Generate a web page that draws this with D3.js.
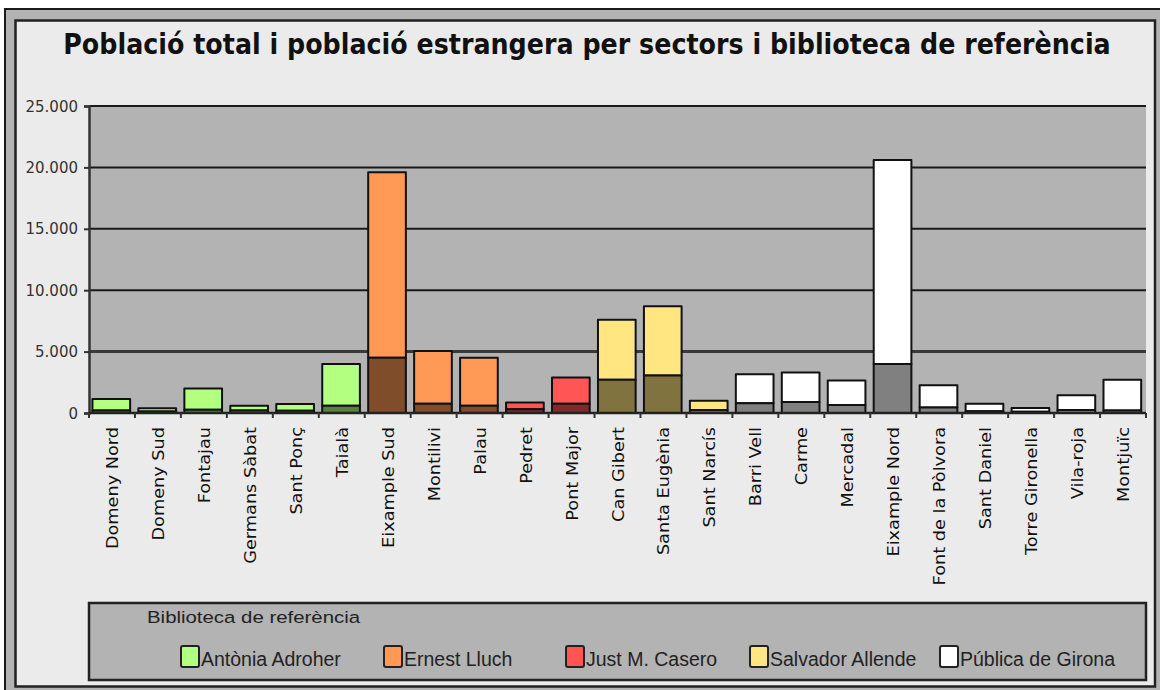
<!DOCTYPE html>
<html><head><meta charset="utf-8">
<script src="https://cdn.jsdelivr.net/npm/d3@7"></script>
<style>body{margin:0;background:#fff;} svg{display:block;}</style>
</head><body>
<svg id="chart" width="1160" height="690"></svg>
<script>
const categories = ["Domeny Nord","Domeny Sud","Fontajau","Germans Sàbat","Sant Ponç","Taialà","Eixample Sud","Montilivi","Palau","Pedret","Pont Major","Can Gibert","Santa Eugènia","Sant Narcís","Barri Vell","Carme","Mercadal","Eixample Nord","Font de la Pòlvora","Sant Daniel","Torre Gironella","Vila-roja","Montjuïc"];
const totalPopulation = [1150, 380, 2000, 600, 730, 4000, 19600, 5050, 4500, 850, 2900, 7600, 8700, 1000, 3150, 3300, 2650, 20600, 2250, 750, 400, 1450, 2700];
const foreignPopulation = [200, 120, 270, 200, 190, 600, 4500, 750, 600, 300, 750, 2700, 3050, 250, 800, 900, 650, 4000, 450, 150, 100, 250, 200];
const libraryIndex = [0,0,0,0,0,0,1,1,1,2,2,3,3,3,4,4,4,4,4,4,4,4,4];
const libraries = ["Antònia Adroher","Ernest Lluch","Just M. Casero","Salvador Allende","Pública de Girona"];
const libraryColors = ["#b3ff80","#ff9955","#ff5555","#ffe680","#ffffff"];
const yTickValues = [0,5000,10000,15000,20000,25000];
const titleText = "Població total i població estrangera per sectors i biblioteca de referència";
const legendTitle = "Biblioteca de referència";

(function(){
const svg = d3.select("#chart");
const fmt = d3.formatLocale({decimal:",", thousands:".", grouping:[3], currency:["","€"]}).format(",d");
function darker(c){ const r = d3.rgb(c); return d3.rgb(r.r/2, r.g/2, r.b/2).formatHex(); }

// frames
svg.append("rect").attr("x",5).attr("y",9).attr("width",1170).attr("height",700)
  .attr("fill","#b3b3b3").attr("stroke","#1a1a1a").attr("stroke-width",2);
svg.append("rect").attr("x",15.5).attr("y",20.5).attr("width",1139.5).attr("height",666)
  .attr("fill","#ebebeb").attr("stroke","#222").attr("stroke-width",2.5);

// title
const title = svg.append("text").attr("x",587).attr("y",0).attr("text-anchor","middle")
  .attr("font-family","DejaVu Sans").attr("font-weight","bold").attr("font-size",22)
  .attr("fill","#111").text(titleText);
const tl = title.node().getComputedTextLength();
title.attr("font-size", 22*1048/tl).attr("transform","translate(0,54) scale(1,1.12)");

const pLeft = 89, pRight = 1146, pTop = 106, pBottom = 413;
const x = d3.scaleBand().domain(categories).range([pLeft,pRight]).paddingInner(0).paddingOuter(0);
const y = d3.scaleLinear().domain([0,25000]).range([pBottom,pTop]);

// plot background
svg.append("rect").attr("x",pLeft).attr("y",pTop).attr("width",pRight-pLeft).attr("height",pBottom-pTop).attr("fill","#b3b3b3");

// gridlines
svg.append("g").selectAll("line").data(yTickValues.filter(d=>d>0)).join("line")
  .attr("x1",pLeft).attr("x2",pRight).attr("y1",d=>y(d)).attr("y2",d=>y(d))
  .attr("stroke",d=>d===5000?"#3a3a3a":"#1a1a1a").attr("stroke-width",d=>d===5000?3:2);

// y axis
const yAxis = svg.append("g").attr("transform",`translate(${pLeft},0)`)
  .call(d3.axisLeft(y).tickValues(yTickValues).tickSize(5).tickPadding(6).tickFormat(fmt));
yAxis.select(".domain").attr("stroke","#333").attr("stroke-width",2.5);
yAxis.selectAll(".tick line").attr("stroke","#333").attr("stroke-width",2);
yAxis.selectAll(".tick text").attr("font-family","DejaVu Sans").attr("font-size",15).attr("fill","#333")
  .attr("dy",null).attr("dominant-baseline","central");

// bars
const bw = x.bandwidth();
const bars = svg.append("g");
categories.forEach((c,i)=>{
  const col = libraryColors[libraryIndex[i]];
  const bx = x(c) + bw*0.075, w = bw*0.82;
  bars.append("rect").attr("x",bx).attr("width",w)
    .attr("y",y(totalPopulation[i])).attr("height",y(foreignPopulation[i])-y(totalPopulation[i]))
    .attr("fill",col).attr("stroke","#111").attr("stroke-width",2).attr("stroke-linejoin","round");
  bars.append("rect").attr("x",bx).attr("width",w)
    .attr("y",y(foreignPopulation[i])).attr("height",y(0)-y(foreignPopulation[i]))
    .attr("fill",darker(col)).attr("stroke","#111").attr("stroke-width",2).attr("stroke-linejoin","round");
});

// x axis line & ticks
svg.append("line").attr("x1",pLeft).attr("x2",pRight).attr("y1",pBottom).attr("y2",pBottom)
  .attr("stroke","#222").attr("stroke-width",2.5);
const bounds = categories.map(c=>x(c)).concat([pRight]);
svg.append("g").selectAll("line").data(bounds).join("line")
  .attr("x1",d=>d).attr("x2",d=>d).attr("y1",pBottom).attr("y2",pBottom+5)
  .attr("stroke","#333").attr("stroke-width",2);

// x labels
svg.append("g").selectAll("text").data(categories).join("text")
  .attr("transform",d=>`translate(${x(d)+bw/2+1},${pBottom+14}) rotate(-90) scale(1.18,1)`)
  .attr("text-anchor","end").attr("dominant-baseline","central")
  .attr("font-family","DejaVu Sans").attr("font-size",15).attr("fill","#111").text(d=>d);

// legend
svg.append("rect").attr("x",pLeft).attr("y",603).attr("width",pRight-pLeft).attr("height",77)
  .attr("fill","#b3b3b3").attr("stroke","#222").attr("stroke-width",2.5);
svg.append("text").attr("transform","translate(147,623) scale(1.2,1)").attr("font-family","Liberation Sans").attr("font-size",17)
  .attr("fill","#222").text(legendTitle);
const legendX = [181, 384, 566, 750, 940];
const lg = svg.append("g").selectAll("g").data(libraries).join("g")
  .attr("transform",(d,i)=>`translate(${legendX[i]},646)`);
lg.append("rect").attr("x",0).attr("y",0).attr("width",18).attr("height",21).attr("rx",2)
  .attr("fill",(d,i)=>libraryColors[i]).attr("stroke","#222").attr("stroke-width",2);
lg.append("text").attr("x",20).attr("y",20).attr("font-family","Liberation Sans").attr("font-size",19.5)
  .attr("fill","#222").text(d=>d);
})();
</script>
</body></html>
